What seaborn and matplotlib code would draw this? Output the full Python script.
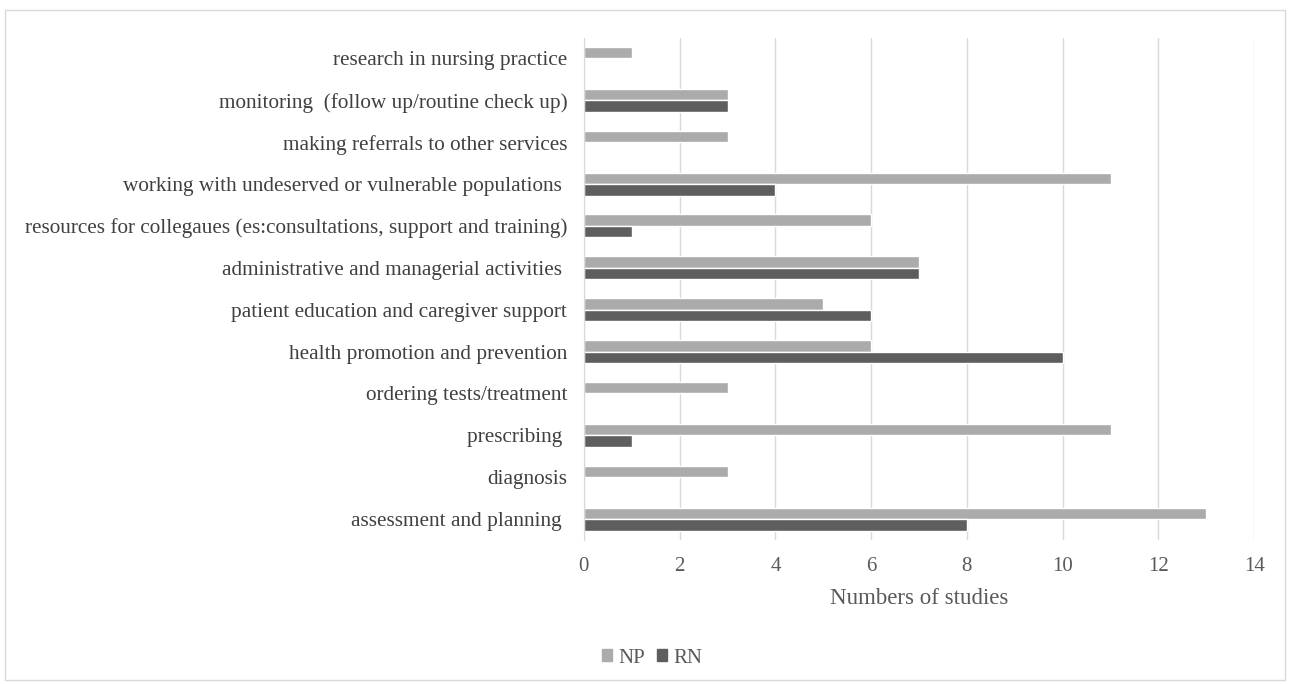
import matplotlib.pyplot as plt
import matplotlib.patches as mpatches
import pandas as pd
import seaborn as sns

sns.set_style("white")
plt.rcParams["font.family"] = ["Liberation Serif", "DejaVu Serif"]

###
# Data
###
categories = [
    "research in nursing practice",
    "monitoring  (follow up/routine check up)",
    "making referrals to other services",
    "working with undeserved or vulnerable populations ",
    "resources for collegaues (es:consultations, support and training)",
    "administrative and managerial activities ",
    "patient education and caregiver support",
    "health promotion and prevention",
    "ordering tests/treatment",
    "prescribing ",
    "diagnosis",
    "assessment and planning ",
]
np_values = [1, 3, 3, 11, 6, 7, 5, 6, 3, 11, 3, 13]
rn_values = [0, 3, 0, 4, 1, 7, 6, 10, 0, 1, 0, 8]
groups = ["NP", "RN"]
colors = {"NP": "#ababab", "RN": "#5e5e5e"}

df = pd.DataFrame(
    {
        "activity": categories * 2,
        "group": ["NP"] * len(categories) + ["RN"] * len(categories),
        "studies": np_values + rn_values,
    }
)

fig = plt.figure(figsize=(12.89, 6.84), dpi=100)
ax = fig.add_axes([0.453, 0.2105, 0.52, 0.7346])

sns.barplot(
    df,
    x="studies",
    y="activity",
    hue="group",
    hue_order=groups,
    palette=colors,
    saturation=1,
    width=0.55,
    orient="h",
    legend=False,
    ax=ax,
)

grid_c = "#d9d9d9"
ax.set_xlim(0, 14)
ax.set_xticks(range(0, 15, 2))
ax.xaxis.grid(True, color=grid_c, linewidth=1)
ax.set_axisbelow(True)
for s in ["top", "right", "bottom"]:
    ax.spines[s].set_visible(False)
ax.spines["left"].set_color(grid_c)
ax.tick_params(axis="x", colors=grid_c, length=5, width=1, direction="out",
               labelcolor="#595959", labelsize=15, pad=7)
ax.tick_params(axis="y", length=0, labelcolor="#404040", labelsize=15.3, pad=12)
ax.set_ylabel("")
ax.set_xlabel("Numbers of studies", fontsize=16.5, color="#595959", labelpad=9)

handles = [mpatches.Patch(color=colors[g], label=g) for g in groups]
fig.legend(
    handles=handles,
    loc="center",
    bbox_to_anchor=(0.506, 0.038),
    ncol=2,
    frameon=False,
    fontsize=15,
    handlelength=0.45,
    handleheight=0.45,
    handletextpad=0.3,
    columnspacing=0.6,
    labelcolor="#595959",
)

fig.patches.append(
    mpatches.Rectangle((0.004, 0.006), 0.993, 0.98, transform=fig.transFigure,
                       fill=False, edgecolor="#d9d9d9", linewidth=1)
)

fig.savefig("out.png", dpi=100)
